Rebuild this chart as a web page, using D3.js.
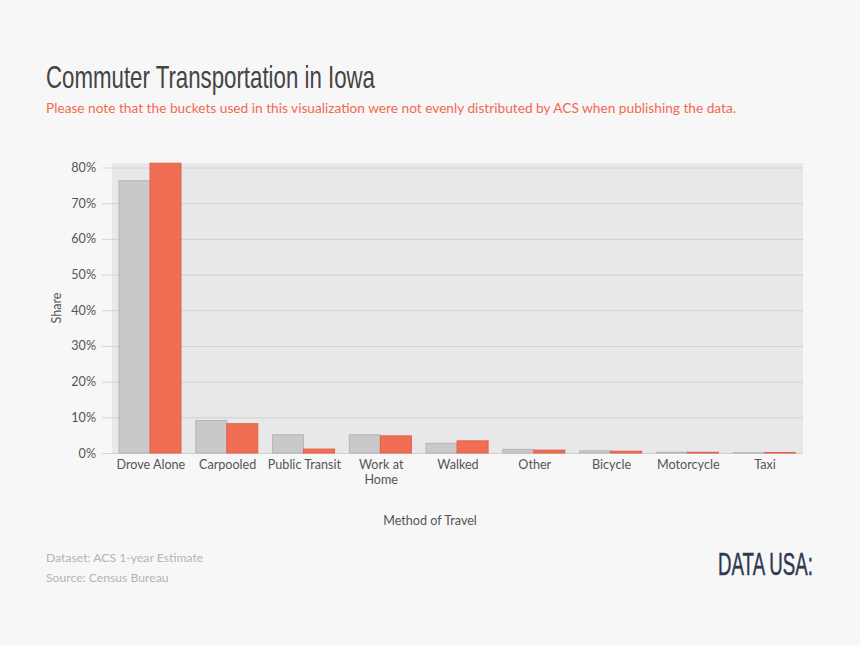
<!DOCTYPE html>
<html lang="en">
  <head>
    <meta charset="UTF-8" />
    <title>Commuter Transportation in Iowa</title>
    <style>
      html, body { margin: 0; padding: 0; background: #f7f7f7; }
      svg { display: block; }
      text { font-family: Lato, "Open Sans", sans-serif; }
      .narrow { font-family: "Liberation Sans Narrow", "Liberation Sans", sans-serif; }
      .axis path { display: none; }
      .axis text { font-size: 12.6px; fill: #555; }
    </style>
  </head>
  <body>
    <svg></svg>
    <script src="https://d3js.org/d3.v7.min.js"></script>
    <script>
      const categories = ["Drove Alone", "Carpooled", "Public Transit", "Work at Home", "Walked", "Other", "Bicycle", "Motorcycle", "Taxi"];
      const usaShare = [76.3, 9.1, 5.1, 5.1, 2.7, 1.0, 0.6, 0.2, 0.1];
      const iowaShare = [81.2, 8.2, 1.1, 4.8, 3.4, 0.8, 0.5, 0.2, 0.15];
      const yTicks = [0, 10, 20, 30, 40, 50, 60, 70, 80];
      const titleText = "Commuter Transportation in Iowa";
      const noteText = "Please note that the buckets used in this visualization were not evenly distributed by ACS when publishing the data.";
      const footerLines = ["Dataset: ACS 1-year Estimate", "Source: Census Bureau"];

      const width = 860;
      const height = 646;
      const svg = d3.select("svg").attr("width", width).attr("height", height);

      const x = d3.scaleBand().domain(categories).range([112, 803]);
      const y = d3.scaleLinear().domain([0, 80]).range([453, 167.5]);
      const inner = d3.scaleBand().domain(["usa", "iowa"]).range([7, 69]);

      // plot background
      svg.append("rect")
        .attr("x", 112).attr("y", 163)
        .attr("width", 691).attr("height", 290)
        .attr("fill", "#e8e8e8");

      // gridlines + y labels
      const yAxis = svg.append("g")
        .attr("class", "axis")
        .attr("transform", "translate(112,0)")
        .call(d3.axisLeft(y).tickValues(yTicks).tickFormat((d) => d + "%").tickSize(10).tickPadding(6));
      yAxis.selectAll("line").attr("stroke", "#d6d6d6");
      yAxis.selectAll(".tick").append("line")
        .attr("x1", 0).attr("x2", 691)
        .attr("stroke", "#d0d0d0");

      // bars
      const groups = svg.append("g").selectAll("g")
        .data(categories)
        .join("g")
        .attr("transform", (d) => `translate(${x(d)},0)`);

      groups.append("rect")
        .attr("x", inner("usa"))
        .attr("y", (d, i) => y(usaShare[i]))
        .attr("width", inner.bandwidth())
        .attr("height", (d, i) => y(0) - y(usaShare[i]))
        .attr("fill", "#c9c9cb")
        .attr("stroke", "#b5b5b8");

      groups.append("rect")
        .attr("x", inner("iowa"))
        .attr("y", (d, i) => y(iowaShare[i]))
        .attr("width", inner.bandwidth())
        .attr("height", (d, i) => y(0) - y(iowaShare[i]))
        .attr("fill", "#f06e54")
        .attr("stroke", "#e2604a");

      // x labels, wrapped by hand for "Work at Home"
      const xLabels = svg.append("g").attr("class", "axis")
        .selectAll("text")
        .data(categories)
        .join("text")
        .attr("text-anchor", "middle")
        .attr("y", 469);
      xLabels.each(function (d) {
        const lines = d === "Work at Home" ? ["Work at", "Home"] : [d];
        d3.select(this).selectAll("tspan")
          .data(lines)
          .join("tspan")
          .attr("x", x(d) + x.bandwidth() / 2 + 0.5)
          .attr("dy", (l, i) => (i ? 15 : 0))
          .text((l) => l);
      });

      // axis titles
      svg.append("text")
        .attr("transform", "translate(61,308) rotate(-90)")
        .attr("text-anchor", "middle")
        .attr("font-size", 12.6)
        .attr("fill", "#555")
        .text("Share");
      svg.append("text")
        .attr("x", 430).attr("y", 525)
        .attr("text-anchor", "middle")
        .attr("font-size", 12.6)
        .attr("fill", "#555")
        .text("Method of Travel");

      // header
      svg.append("text")
        .attr("class", "narrow")
        .attr("x", 46).attr("y", 88)
        .attr("font-size", 32)
        .attr("fill", "#444")
        .attr("textLength", 329)
        .attr("lengthAdjust", "spacingAndGlyphs")
        .text(titleText);
      svg.append("text")
        .attr("x", 46).attr("y", 113)
        .attr("font-size", 13.5)
        .attr("fill", "#f2694f")
        .attr("textLength", 690)
        .attr("lengthAdjust", "spacingAndGlyphs")
        .text(noteText);

      // footer
      svg.append("g").selectAll("text")
        .data(footerLines)
        .join("text")
        .attr("x", 46)
        .attr("y", (d, i) => 562 + i * 19.5)
        .attr("font-size", 12.2)
        .attr("fill", "#b4b4b4")
        .text((d) => d);

      // logo, squeezed horizontally to fit its 95px slot
      const logo = svg.append("text")
        .attr("class", "narrow")
        .attr("font-size", 32)
        .attr("fill", "#2f3850")
        .attr("stroke", "#2f3850")
        .attr("stroke-width", 0.5)
        .text("DATA USA:");
      const logoScale = 95 / logo.node().getComputedTextLength();
      logo.attr("transform", `translate(718,575) scale(${logoScale},1)`);
    </script>
  </body>
</html>
